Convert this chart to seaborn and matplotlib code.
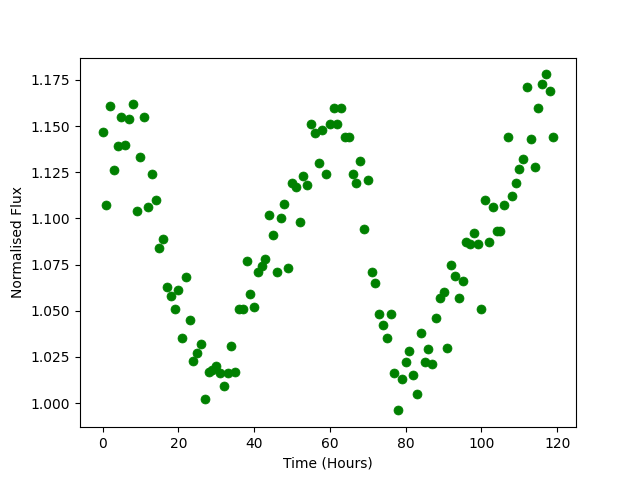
import matplotlib
matplotlib.use("Agg")
import matplotlib.pyplot as plt
import seaborn as sns
import numpy as np
import pandas as pd

hours = list(range(120))
flux = [
    1.147, 1.107, 1.161, 1.126, 1.139, 1.155, 1.140, 1.154, 1.162, 1.104,
    1.133, 1.155, 1.106, 1.124, 1.110, 1.084, 1.089, 1.063, 1.058, 1.051,
    1.061, 1.035, 1.068, 1.045, 1.023, 1.027, 1.032, 1.002, 1.017, 1.018,
    1.020, 1.016, 1.009, 1.016, 1.031, 1.017, 1.051, 1.051, 1.077, 1.059,
    1.052, 1.071, 1.074, 1.078, 1.102, 1.091, 1.071, 1.100, 1.108, 1.073,
    1.119, 1.117, 1.098, 1.123, 1.118, 1.151, 1.146, 1.130, 1.148, 1.124,
    1.151, 1.160, 1.151, 1.160, 1.144, 1.144, 1.124, 1.119, 1.131, 1.094,
    1.121, 1.071, 1.065, 1.048, 1.042, 1.035, 1.048, 1.016, 0.996, 1.013,
    1.022, 1.028, 1.015, 1.005, 1.038, 1.022, 1.029, 1.021, 1.046, 1.057,
    1.060, 1.030, 1.075, 1.069, 1.057, 1.066, 1.087, 1.086, 1.092, 1.086,
    1.051, 1.110, 1.087, 1.106, 1.093, 1.093, 1.107, 1.144, 1.112, 1.119,
    1.127, 1.132, 1.171, 1.143, 1.128, 1.160, 1.173, 1.178, 1.169, 1.144,
]

df = pd.DataFrame({"Time (Hours)": hours, "Normalised Flux": flux})

fig, ax = plt.subplots(figsize=(6.4, 4.8), dpi=100)
sns.scatterplot(data=df, x="Time (Hours)", y="Normalised Flux", ax=ax,
                color="green", s=42, edgecolor="green", linewidth=0.5)
ax.set_xlabel("Time (Hours)")
ax.set_ylabel("Normalised Flux")
fig.savefig("out.png", dpi=100)
